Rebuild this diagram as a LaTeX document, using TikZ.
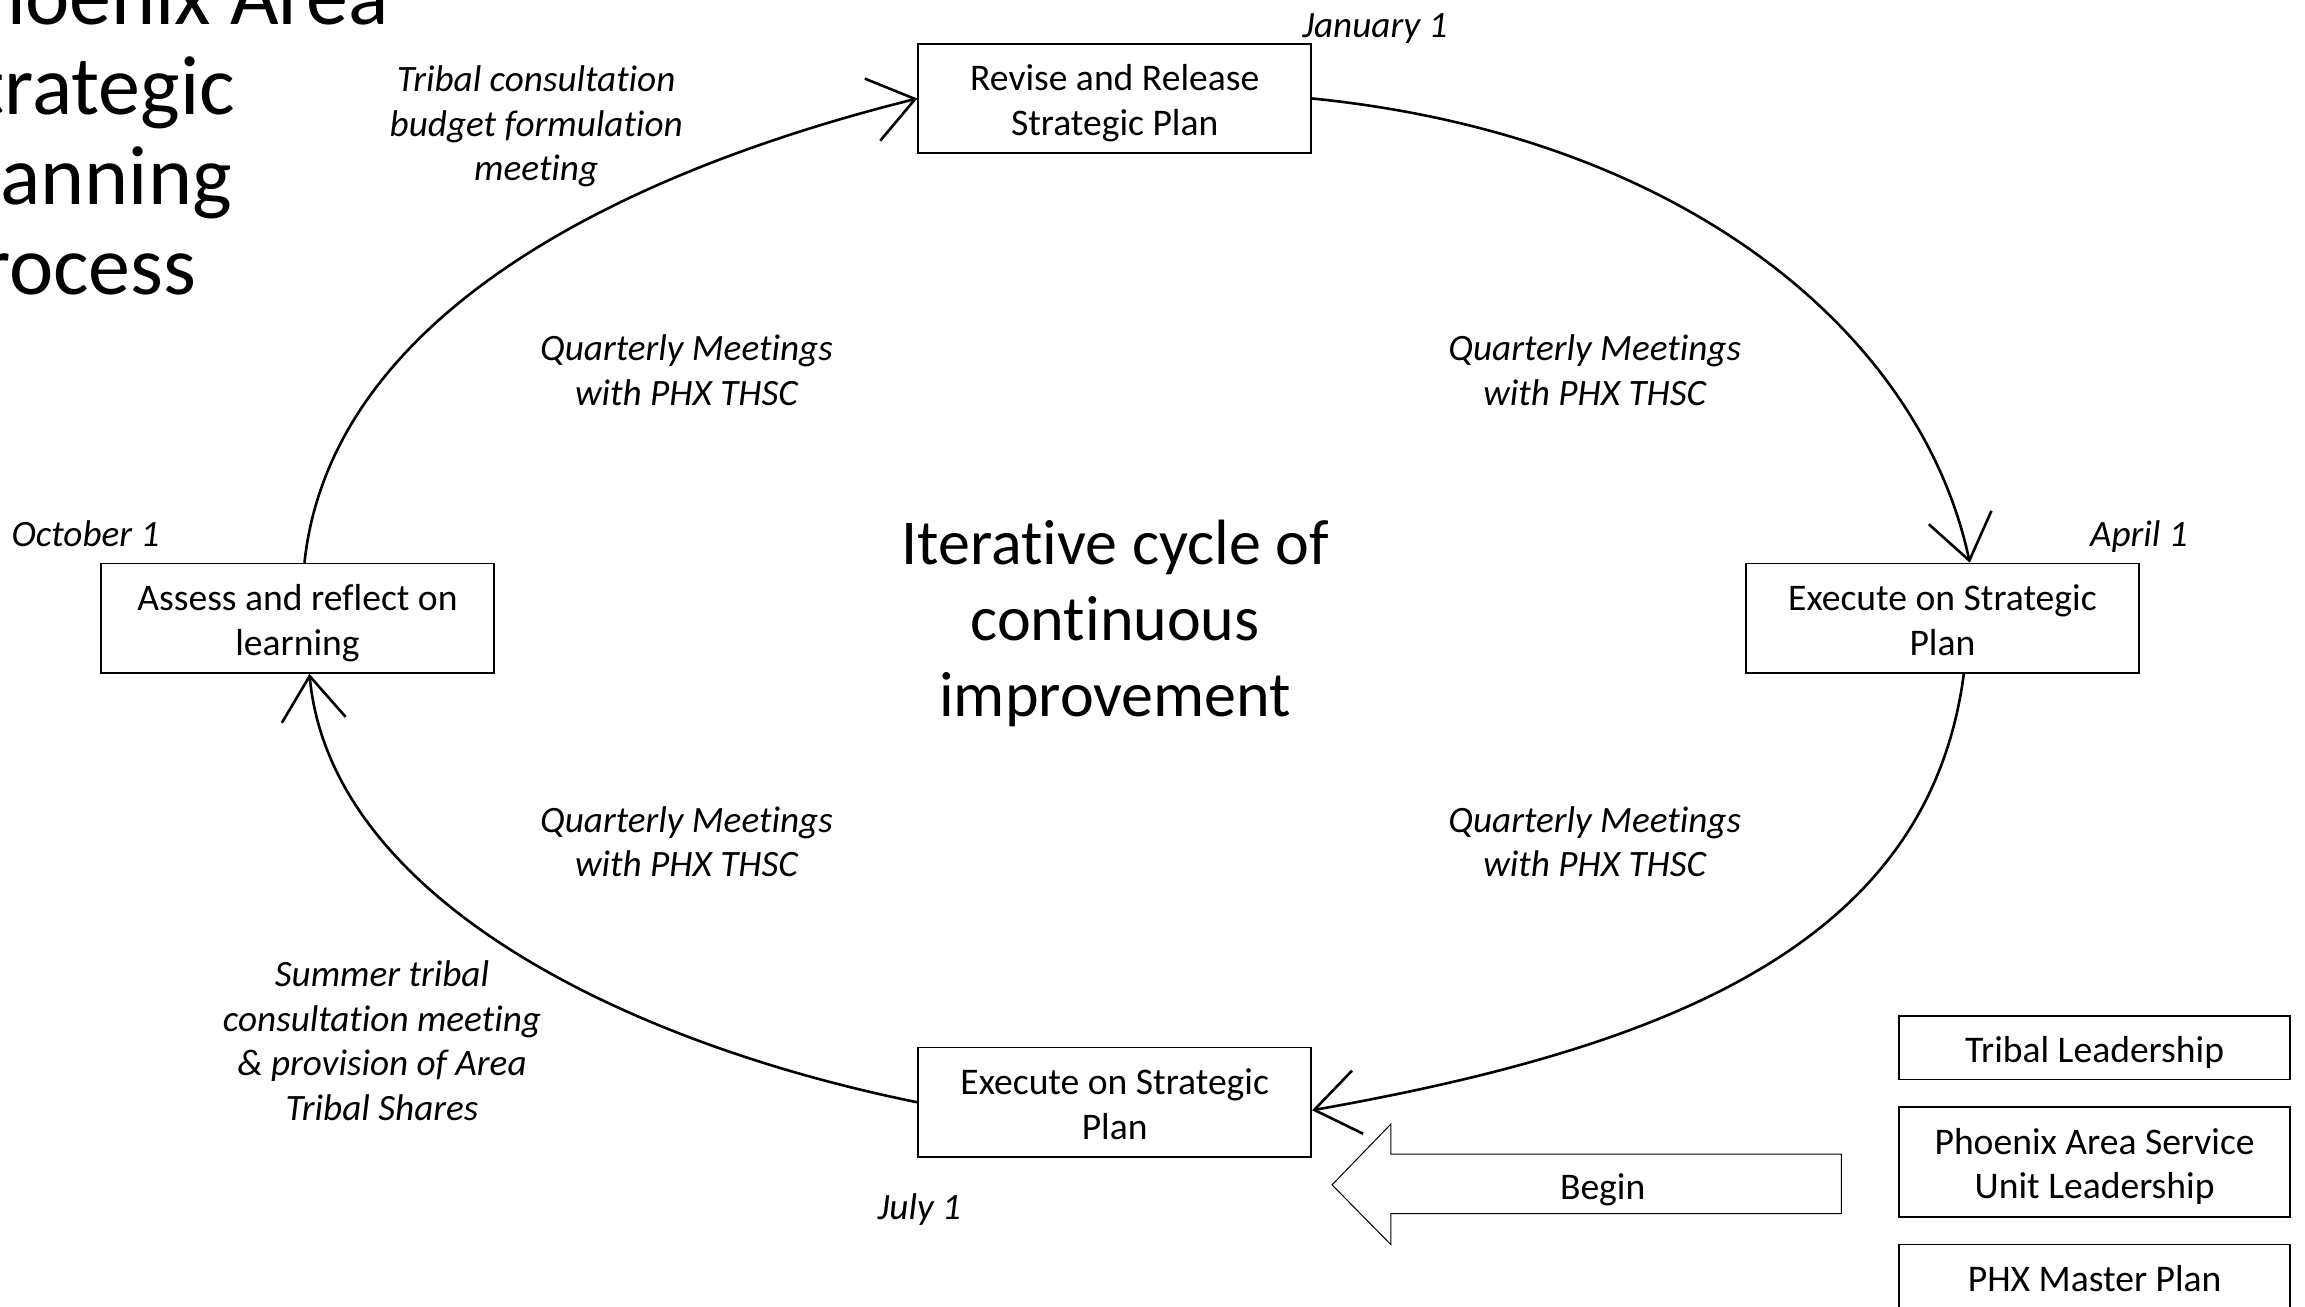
\documentclass[tikz,border=0pt]{standalone}
\usepackage{fontspec}
\setmainfont{Carlito}[Ligatures=NoCommon]
\usetikzlibrary{arrows.meta}
\newcommand\Ta{\rule{0pt}{1.05em}}
\newcommand\Tb{\rule[-0.269em]{0pt}{0pt}}
\begin{document}
\begin{tikzpicture}[x=0.49743pt, y=-0.49743pt,
  box/.style={draw, line width=0.85pt, minimum width=196.5pt, minimum height=54.7pt, align=center, font=\fontsize{18.8}{22.3}\selectfont, inner sep=0pt},
  sbox/.style={draw, line width=0.85pt, minimum width=195.5pt, align=center, font=\fontsize{18.8}{22.3}\selectfont, inner sep=0pt},
  lbl/.style={font=\fontsize{18.6}{22.3}\selectfont\itshape, align=center, inner sep=0pt},
  conn/.style={line width=1.3pt, -{Straight Barb[length=22pt,width=32pt]}},
  bigarrow/.style={draw, line width=0.5pt}
]
\useasboundingbox (0,0) rectangle (2317,1313.8);

% title
\node[anchor=base west, inner sep=0pt, font=\fontsize{42}{45}\selectfont] (title) at (-63,25)
  {\begin{tabular}[t]{@{}l@{}}Phoenix Area\\Strategic\\Planning\\Process\end{tabular}};

% cycle boxes
\node[box] (top) at (1120.5,99) {\Ta Revise and Release\\Strategic Plan\Tb};
\node[box] (right) at (1952.5,621.5) {\Ta Execute on Strategic\\Plan\Tb};
\node[box] (left) at (299,621.5) {\Ta Assess and reflect on\\learning\Tb};
\node[box] (bottom) at (1120.5,1108) {\Ta Execute on Strategic\\Plan\Tb};

% connectors
\draw[conn] (top.east) .. controls (1689,136) and (1930,332) .. ([xshift=13.7pt]right.north);
\draw[conn] ([xshift=10.7pt]right.south) .. controls (1939,945) and (1687,1051) .. ([yshift=-4pt]bottom.east);
\draw[conn] (bottom.west) .. controls (626,1048) and (332,902) .. ([xshift=6pt]left.south);
\draw[conn] ([xshift=3.5pt]left.north) .. controls (332,322) and (613,176) .. (top.west);

% labels
\node[lbl] (jan) at (1382,29) {January 1};
\node[lbl] (apr) at (2150,539) {April 1};
\node[lbl] (oct) at (86,536) {October 1};
\node[lbl] (jul) at (924,1216) {July 1};
\node[lbl] (tcb) at (539,127) {Tribal consultation\\budget formulation\\meeting};
\node[lbl] (q1) at (690,372) {Quarterly Meetings\\with PHX THSC};
\node[lbl] (q2) at (1603,372) {Quarterly Meetings\\with PHX THSC};
\node[lbl] (q3) at (690,846) {Quarterly Meetings\\with PHX THSC};
\node[lbl] (q4) at (1603,846) {Quarterly Meetings\\with PHX THSC};
\node[lbl] (summer) at (384,1046) {Summer tribal\\consultation meeting\\\& provision of Area\\Tribal Shares};
\node[font=\fontsize{32}{38}\selectfont, align=center, inner sep=0pt] (centre) at (1121,627) {Iterative cycle of\\continuous\\improvement};

% begin arrow
\draw[bigarrow] (1339,1191) -- (1398,1130) -- (1398,1160) -- (1851,1160) -- (1851,1220) -- (1398,1220) -- (1398,1251) -- cycle;
\node[font=\fontsize{18.8}{22.3}\selectfont, inner sep=0pt] (begin) at (1611,1191) {\Ta Begin\Tb};

% side boxes
\node[sbox, minimum height=31.8pt] (tl) at (2105.5,1053) {\Ta Tribal Leadership\Tb};
\node[sbox, minimum height=54.7pt] (pas) at (2105.5,1168) {\Ta Phoenix Area Service\\Unit Leadership\Tb};
\node[sbox, minimum height=31.8pt] (phx) at (2105.5,1283) {\Ta PHX Master Plan\Tb};
\end{tikzpicture}
\end{document}
